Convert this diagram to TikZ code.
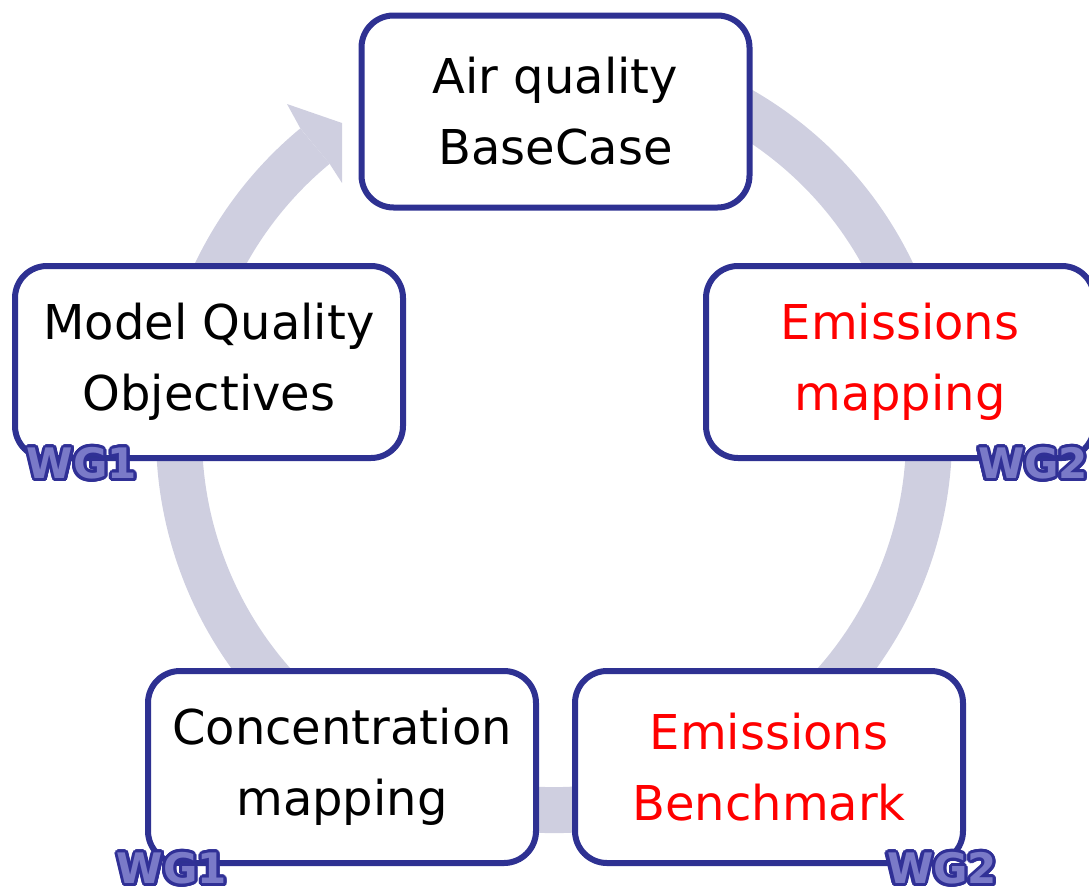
\documentclass[tikz,border=0pt]{standalone}
\usepackage{fontspec}
\setmainfont{DejaVu Sans}
\usepackage{contour}
\contourlength{3pt}
\contournumber{24}
\usetikzlibrary{calc}
\definecolor{ringgray}{RGB}{207,207,224}
\definecolor{boxblue}{RGB}{46,49,146}
\definecolor{wgline}{RGB}{48,48,150}
\definecolor{wgfill}{RGB}{122,122,200}
\newcommand{\wglabel}[1]{\contour{wgline}{\textcolor{wgfill}{#1}}}
\begin{document}
\begin{tikzpicture}[x=1pt,y=-1pt,
    cyclebox/.style={draw=boxblue,line width=6pt,fill=white,rounded corners=32pt,
      minimum width=388pt,minimum height=192pt,align=center,
      font=\fontsize{48}{71}\selectfont},
    wgtag/.style={font=\fontsize{42}{42}\selectfont\bfseries,inner sep=0pt}]
\useasboundingbox (0,0) rectangle (1089,889);
\clip (0,0) rectangle (1089,889);
\coordinate (c) at (554,435);
% ring with arrow head
\draw[ringgray,line width=46pt] (c) ++(-110:375) arc[start angle=-110,end angle=230.4,radius=375];
\fill[ringgray] ($(c)+(230.4:398)$) -- (287,104) -- (342,123) -- (342,183) -- ($(c)+(230.4:352)$) -- cycle;
% boxes
\node[cyclebox] (basecase) at (555.5,111.5) {Air quality\\BaseCase};
\node[cyclebox] (mqo) at (209,362) {Model Quality\\Objectives};
\node[cyclebox,text=red] (emap) at (900,362) {Emissions\\mapping};
\node[cyclebox,text=red] (ebench) at (769,767) {Emissions\\Benchmark};
\node[cyclebox] (cmap) at (342,767) {Concentration\\mapping};
% working groups
\node[wgtag] (wg1a) at (82,465) {\wglabel{WG1}};
\node[wgtag] (wg2a) at (1033,465) {\wglabel{WG2}};
\node[wgtag] (wg1b) at (172,870) {\wglabel{WG1}};
\node[wgtag] (wg2b) at (942,870) {\wglabel{WG2}};
\end{tikzpicture}
\end{document}
